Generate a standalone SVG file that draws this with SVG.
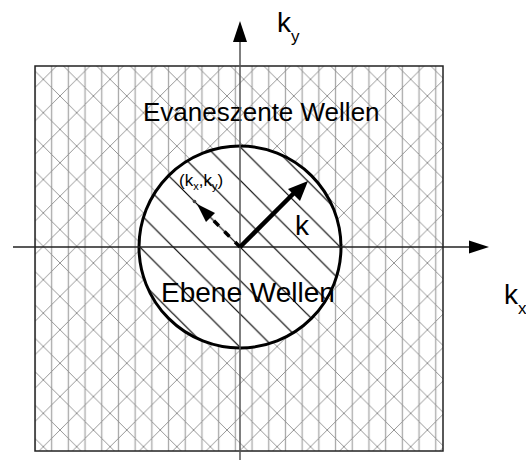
<svg xmlns="http://www.w3.org/2000/svg" width="526" height="469" viewBox="0 0 526 469">
<style>
text{font-family:"Liberation Sans",Arial,sans-serif;fill:#000}
.big{font-size:28px}
.sub{font-size:17px}
.lbl{font-size:26px}
</style>
<defs>
<pattern id="cross" patternUnits="userSpaceOnUse" x="43.3" y="79.3" width="33.4" height="33.4">
<path d="M8.35,0V33.4M25.05,0V33.4" stroke="#a8a8a8" stroke-width="1.3"/>
<path d="M0,0L33.4,33.4M33.4,0L0,33.4" stroke="#8a8a8a" stroke-width="0.9"/>
</pattern>
<pattern id="diag" patternUnits="userSpaceOnUse" x="240" y="247" width="33.4" height="33.4">
<path d="M0,0L33.4,33.4M-2,31.4L2,35.4M31.4,-2L35.4,2" stroke="#000" stroke-width="1.2"/>
</pattern>
</defs>
<g id="evanescent-region">
<rect x="35" y="66" width="408" height="385" fill="#fff"/>
<rect x="35" y="66" width="408" height="385" fill="url(#cross)" stroke="#222" stroke-width="1.5"/>
<text class="lbl" x="143" y="121">Evaneszente Wellen</text>
</g>
<g id="propagating-region">
<circle cx="240" cy="247" r="101" fill="#fff"/>
<circle cx="240" cy="247" r="101" fill="url(#diag)" stroke="#000" stroke-width="3"/>
</g>
<g id="connectors">
<line x1="240" y1="460" x2="240" y2="40" stroke="#555" stroke-width="1.5"/>
<polygon points="240,21 233,42 247,42" fill="#000"/>
<line x1="13" y1="247" x2="471" y2="247" stroke="#222" stroke-width="1.5"/>
<polygon points="489,247 469,240.5 469,253.5" fill="#000"/>
<line x1="240" y1="247" x2="295" y2="192" stroke="#000" stroke-width="4.5"/>
<polygon points="308,181 288,189 300,201" fill="#000"/>
<line x1="240" y1="247" x2="212" y2="219" stroke="#000" stroke-width="3.5" stroke-dasharray="7 8"/>
<polygon points="197,204 215,213 206,222" fill="#000"/>
<line x1="194" y1="201" x2="200" y2="207" stroke="#000" stroke-width="1"/>
<circle cx="194.5" cy="201.5" r="1.8" fill="#444"/>
</g>
<g id="labels">
<text x="161" y="302" style="font-size:28px">Ebene Wellen</text>
<text class="big" x="295" y="235">k</text>
<text class="big" x="277" y="32">k</text><text class="sub" x="291" y="42">y</text>
<text class="big" x="504" y="304">k</text><text class="sub" x="518" y="314">x</text>
<text style="font-size:17px" x="179" y="186">(k<tspan style="font-size:11px" dy="4">x</tspan><tspan dy="-4">,k</tspan><tspan style="font-size:11px" dy="4">y</tspan><tspan dy="-4">)</tspan></text>
</g>
</svg>
